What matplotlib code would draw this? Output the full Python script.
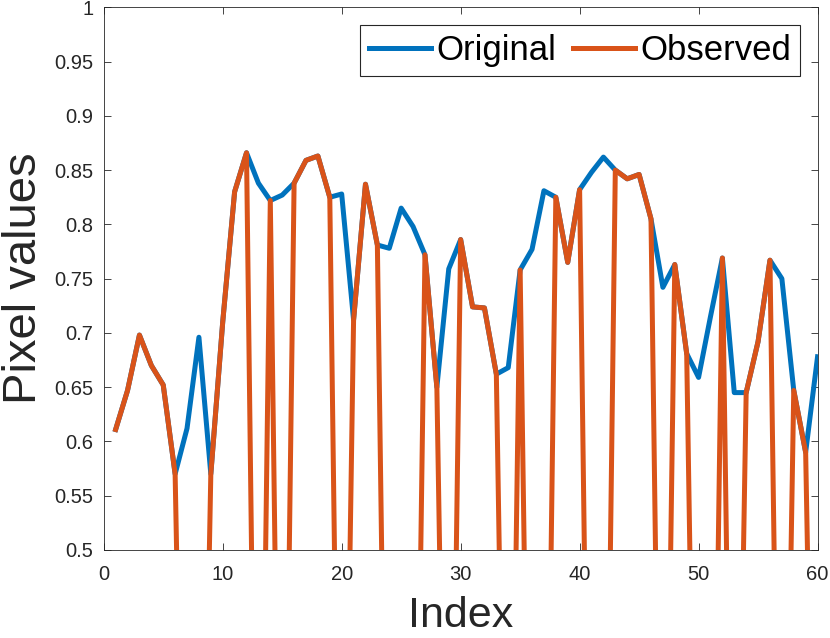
import matplotlib
matplotlib.use('Agg')
import matplotlib.pyplot as plt
import numpy as np

plt.rcParams['font.family'] = ['Liberation Sans', 'DejaVu Sans']

# data
index = list(range(1, 61))
original = [0.611, 0.647, 0.698, 0.670, 0.652, 0.570, 0.612, 0.696, 0.570, 0.710,
            0.830, 0.866, 0.838, 0.822, 0.827, 0.838, 0.859, 0.863, 0.825, 0.828,
            0.712, 0.837, 0.781, 0.778, 0.815, 0.798, 0.772, 0.650, 0.759, 0.786,
            0.724, 0.723, 0.662, 0.668, 0.758, 0.777, 0.831, 0.825, 0.765, 0.832,
            0.848, 0.862, 0.850, 0.842, 0.846, 0.805, 0.742, 0.763, 0.681, 0.659,
            0.715, 0.769, 0.645, 0.645, 0.692, 0.767, 0.750, 0.647, 0.590, 0.678]
observed = [0.611, 0.647, 0.698, 0.670, 0.652, 0.570, 0.0, 0.0, 0.570, 0.710,
            0.830, 0.866, 0.0, 0.822, 0.0, 0.838, 0.859, 0.863, 0.825, 0.0,
            0.712, 0.837, 0.781, 0.0, 0.0, 0.0, 0.772, 0.650, 0.0, 0.786,
            0.724, 0.723, 0.662, 0.0, 0.758, 0.0, 0.0, 0.825, 0.765, 0.832,
            0.0, 0.0, 0.850, 0.842, 0.846, 0.805, 0.0, 0.763, 0.681, 0.0,
            0.0, 0.769, 0.0, 0.645, 0.692, 0.767, 0.0, 0.647, 0.590, 0.0]
xticks = [0, 10, 20, 30, 40, 50, 60]
yticks = [0.5, 0.55, 0.6, 0.65, 0.7, 0.75, 0.8, 0.85, 0.9, 0.95, 1.0]
yticklabels = ['0.5', '0.55', '0.6', '0.65', '0.7', '0.75', '0.8', '0.85', '0.9', '0.95', '1']

blue = '#0072BD'
orange = '#D95319'
dark = '#262626'

fig = plt.figure(figsize=(8.3, 6.38), dpi=100)
ax = fig.add_axes([0.125, 0.138, 0.86, 0.8505])

ax.plot(index, original, color=blue, lw=3.6, label='Original')
ax.plot(index, observed, color=orange, lw=3.6, label='Observed')

ax.set_xlim(0, 60)
ax.set_ylim(0.5, 1)
ax.set_xticks(xticks)
ax.set_yticks(yticks)
ax.set_yticklabels(yticklabels)

for s in ax.spines.values():
    s.set_color(dark)
    s.set_linewidth(0.6)
ax.tick_params(direction='in', length=5, width=0.6, color=dark, labelcolor=dark,
               labelsize=14.5, top=True, right=True)
ax.tick_params(axis='x', pad=10.5)
ax.tick_params(axis='y', pad=7.5)

ax.set_xlabel('Index', fontsize=31, color=dark, labelpad=9)
ax.set_ylabel('Pixel values', fontsize=34, color=dark, labelpad=6)

leg = ax.legend(loc='upper right', ncol=2, fontsize=25, handlelength=1.78,
                handletextpad=0.15, columnspacing=0.5, borderpad=0.26,
                borderaxespad=0.5, fancybox=False, framealpha=1)
leg.get_frame().set_edgecolor(dark)
leg.get_frame().set_linewidth(0.8)

fig.savefig('out.png', dpi=100)
